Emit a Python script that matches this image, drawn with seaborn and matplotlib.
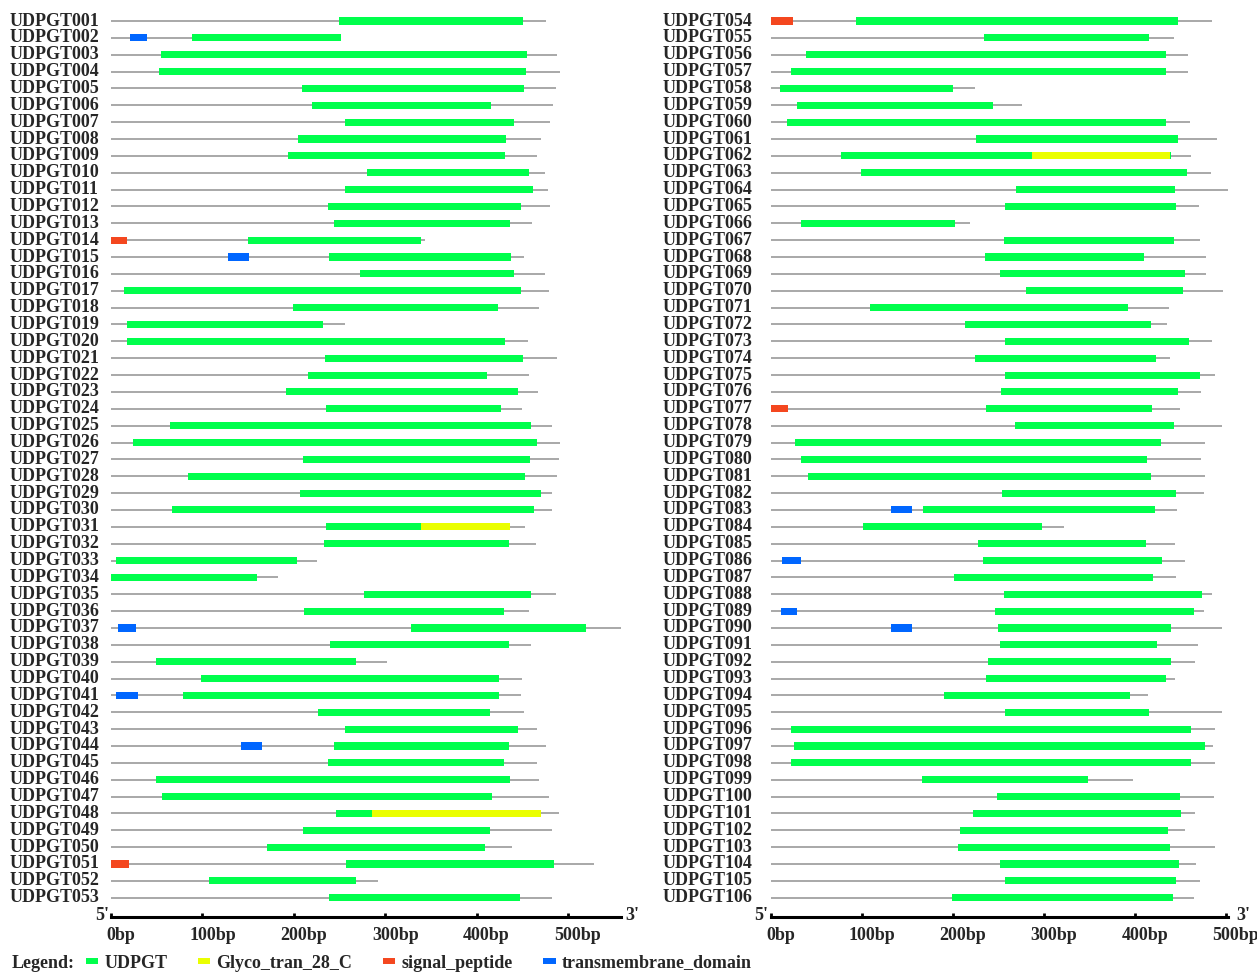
import matplotlib
matplotlib.use("Agg")
import matplotlib.pyplot as plt
import matplotlib.transforms as mtransforms
from matplotlib.lines import Line2D
import pandas as pd
import seaborn as sns

# gene ids and protein lengths (aa)
gene_ids = ["UDPGT%03d" % i for i in range(1, 107)]
protein_len = [
    476, 252, 488, 491, 487, 484, 480, 470, 466, 475,
    478, 480, 461, 344, 452, 475, 479, 468, 256, 456,
    488, 457, 467, 450, 482, 491, 490, 488, 482, 482,
    453, 465, 225, 183, 487, 457, 558, 459, 302, 450,
    449, 452, 466, 476, 466, 468, 479, 490, 482, 439,
    528, 292, 482,
    485, 443, 458, 458, 225, 276, 460, 490, 462, 483,
    502, 470, 219, 472, 478, 478, 497, 437, 435, 485,
    439, 488, 473, 449, 496, 477, 473, 477, 476, 446,
    322, 444, 455, 445, 485, 476, 496, 469, 466, 444,
    414, 496, 488, 486, 488, 398, 487, 466, 455, 488,
    467, 472, 465]

# UDPGT domain
udpgt_start = [
    249, 89, 55, 53, 209, 220, 256, 205, 194, 280,
    256, 237, 244, 150, 238, 272, 14, 199, 17, 18,
    234, 215, 191, 235, 65, 24, 210, 84, 207, 67,
    235, 233, 6, 0, 277, 211, 328, 240, 49, 98,
    79, 227, 256, 244, 237, 49, 56, 246, 210, 171,
    257, 107, 239,
    94, 234, 39, 22, 10, 29, 18, 226, 77, 99,
    270, 257, 33, 256, 236, 252, 280, 109, 214, 257,
    225, 257, 253, 237, 268, 27, 33, 41, 254, 167,
    102, 228, 233, 201, 256, 246, 250, 252, 239, 237,
    190, 257, 22, 26, 23, 166, 249, 222, 208, 206,
    252, 257, 199]
udpgt_end = [
    451, 252, 455, 454, 452, 416, 441, 432, 431, 457,
    462, 449, 436, 339, 438, 441, 449, 423, 232, 431,
    451, 411, 445, 427, 459, 466, 458, 453, 471, 463,
    339, 435, 203, 160, 459, 430, 520, 435, 268, 424,
    425, 415, 445, 435, 430, 436, 417, 286, 415, 409,
    485, 268, 448,
    447, 415, 434, 434, 200, 244, 434, 447, 440, 457,
    444, 445, 202, 443, 410, 455, 453, 392, 418, 459,
    423, 472, 447, 419, 443, 429, 413, 418, 445, 422,
    298, 412, 430, 420, 474, 465, 440, 424, 440, 434,
    395, 415, 462, 477, 462, 349, 450, 451, 436, 439,
    448, 445, 442]

glyco_genes = ["UDPGT031", "UDPGT048", "UDPGT062"]
glyco_start = [339, 286, 287]
glyco_end = [436, 471, 438]

signal_genes = ["UDPGT014", "UDPGT051", "UDPGT054", "UDPGT077"]
signal_start = [0, 0, 1, 1]
signal_end = [18, 20, 25, 19]

tm_genes = ["UDPGT002", "UDPGT015", "UDPGT037", "UDPGT041", "UDPGT044",
            "UDPGT083", "UDPGT086", "UDPGT089", "UDPGT090"]
tm_start = [21, 128, 8, 6, 142, 132, 13, 12, 132]
tm_end = [39, 151, 27, 29, 165, 155, 33, 29, 155]

tick_bp = [0, 100, 200, 300, 400, 500]

domain_colors = {
    "UDPGT": "#00ff4c",
    "Glyco_tran_28_C": "#eaff00",
    "signal_peptide": "#f4471f",
    "transmembrane_domain": "#0066ff",
}

# long table of domains
parts = [
    pd.DataFrame({"gene": gene_ids, "domain": "UDPGT", "start": udpgt_start, "end": udpgt_end}),
    pd.DataFrame({"gene": glyco_genes, "domain": "Glyco_tran_28_C", "start": glyco_start, "end": glyco_end}),
    pd.DataFrame({"gene": signal_genes, "domain": "signal_peptide", "start": signal_start, "end": signal_end}),
    pd.DataFrame({"gene": tm_genes, "domain": "transmembrane_domain", "start": tm_start, "end": tm_end}),
]
df_dom = pd.concat(parts, ignore_index=True)
df_len = pd.DataFrame({"gene": gene_ids, "length": protein_len})

sns.set_theme(style="white")
plt.rcParams["font.family"] = ["Liberation Serif", "DejaVu Serif"]
plt.rcParams["font.weight"] = "bold"

W, H = 1257, 973
fig = plt.figure(figsize=(W / 100, H / 100), dpi=100)

ROW0, STEP, TOP, RULER = 21, 16.86, 10, 917
FS = 13
ymin = (TOP - ROW0) / STEP
ymax = (RULER - ROW0) / STEP

# (first gene, last gene, x of 0bp in px, px per bp, x of labels, 3' offset)
panels = [(0, 53, 111, 0.914, 10, 4), (53, 106, 770.5, 0.911, 663, 8)]

for g0, g1, x0, pxbp, lab_x, off3 in panels:
    sub = df_len.iloc[g0:g1].reset_index(drop=True)
    rows = {g: i for i, g in enumerate(sub["gene"])}
    maxlen = sub["length"].max()
    ax = fig.add_axes([x0 / W, (H - RULER) / H, maxlen * pxbp / W, (RULER - TOP) / H])
    ax.set_xlim(0, maxlen)
    ax.set_ylim(ymax, ymin)

    ax.hlines(sub.index, 0, sub["length"], color="#9a9a9a", lw=1.2, zorder=1)
    dsub = df_dom[df_dom["gene"].isin(rows)]
    for dom in domain_colors:
        d = dsub[dsub["domain"] == dom]
        ax.barh(d["gene"].map(rows), d["end"] - d["start"], left=d["start"],
                height=0.42, color=domain_colors[dom], linewidth=0, zorder=2)

    for s in ["top", "left", "right"]:
        ax.spines[s].set_visible(False)
    ax.spines["bottom"].set_linewidth(2.2)
    ax.spines["bottom"].set_color("black")
    ax.set_yticks([])
    ax.set_xticks(tick_bp)
    ax.tick_params(axis="x", direction="in", length=3, width=2, color="black",
                   bottom=True, labelbottom=False)
    ax.set_facecolor("none")

    xt = ax.get_xaxis_transform()
    for t in tick_bp:
        ax.text(t, 0, "%dbp" % t, fontsize=FS, fontweight="bold", ha="center", va="center",
                transform=mtransforms.offset_copy(xt, fig, x=10, y=-18, units="dots"))
    ax.text(0, 0, "5'", fontsize=FS, fontweight="bold", ha="right", va="center",
            transform=mtransforms.offset_copy(xt, fig, x=-2, y=1, units="dots"))
    ax.text(maxlen, 0, "3'", fontsize=FS, fontweight="bold", ha="left", va="center",
            transform=mtransforms.offset_copy(xt, fig, x=off3, y=1, units="dots"))

    lt = mtransforms.blended_transform_factory(fig.transFigure, ax.transData)
    for i, g in enumerate(sub["gene"]):
        ax.text(lab_x / W, i, g, transform=lt, fontsize=FS, fontweight="bold",
                ha="left", va="center", clip_on=False)

# legend
ly = (H - 963) / H
fig.text(12 / W, ly, "Legend:", fontsize=FS, fontweight="bold", ha="left", va="center")
handles = [Line2D([], [], color=c, lw=4.3, solid_capstyle="butt") for c in domain_colors.values()]
fig.legend(handles, list(domain_colors), ncol=4, loc="center left",
           bbox_to_anchor=(86 / W, ly), frameon=False, handlelength=0.67,
           handletextpad=0.35, columnspacing=1.7, borderpad=0, borderaxespad=0,
           prop={"family": "Liberation Serif", "weight": "bold", "size": FS})

fig.savefig("out.png", dpi=100)
